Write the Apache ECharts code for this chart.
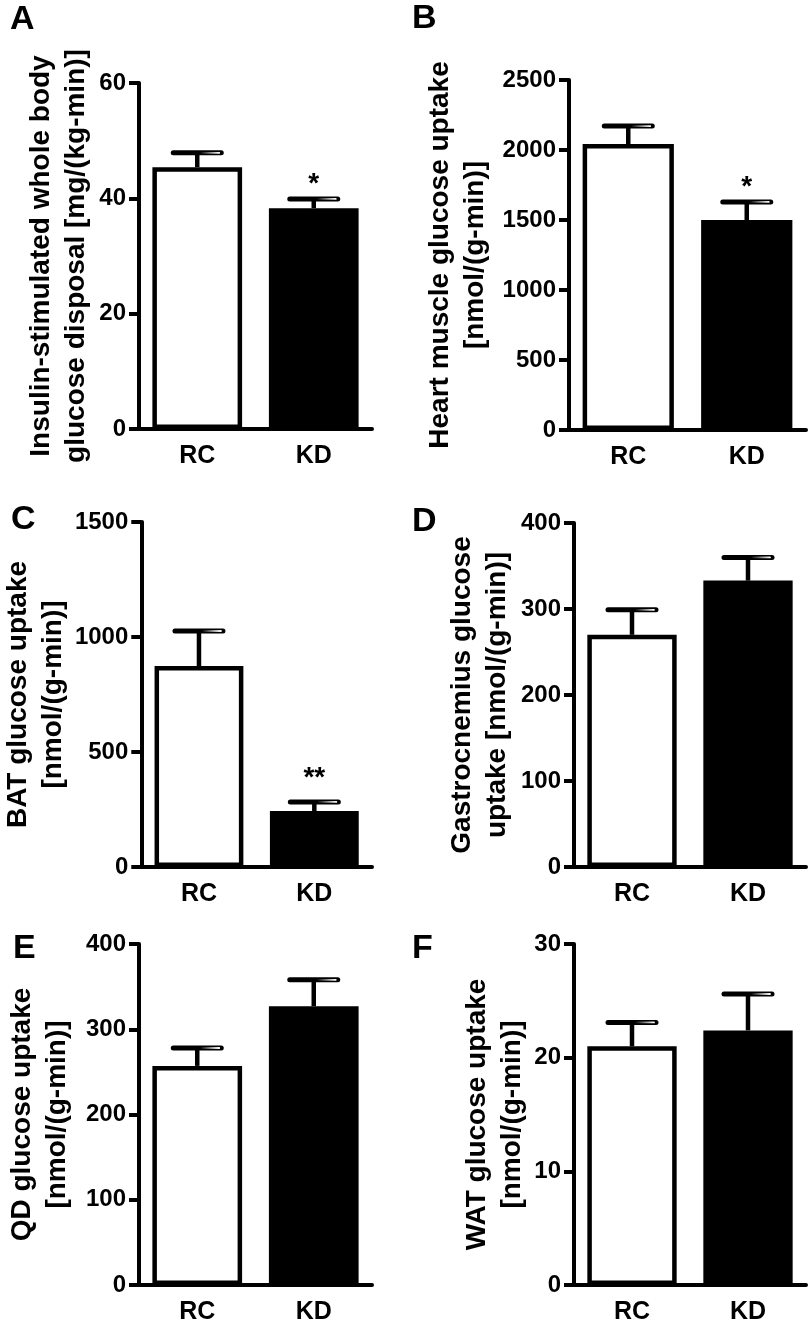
<!DOCTYPE html>
<html>
<head>
<meta charset="utf-8">
<script src="https://cdn.jsdelivr.net/npm/echarts@6/dist/echarts.min.js"></script>
<style>
  html, body { margin: 0; padding: 0; background: #fff; }
  #chart { width: 812px; height: 1325px; }
</style>
</head>
<body>
<div id="chart"></div>
<script>
// ---------- data ----------
const categories = ['RC', 'KD'];

const meanA = [45.4, 38.3];   const semA = [2.5, 1.6];   const sigA = ['', '*'];
const meanB = [2043, 1500];   const semB = [128, 129];   const sigB = ['', '*'];
const meanC = [874, 243];     const semC = [152, 40];    const sigC = ['', '**'];
const meanD = [270, 333];     const semD = [29, 27];     const sigD = ['', ''];
const meanE = [257, 327];     const semE = [21, 31];     const sigE = ['', ''];
const meanF = [21.0, 22.4];   const semF = [2.1, 3.2];   const sigF = ['', ''];

// y axis: [min, max, interval]
const yAxisA = [0, 60, 20];
const yAxisB = [0, 2500, 500];
const yAxisC = [0, 1500, 500];
const yAxisD = [0, 400, 100];
const yAxisE = [0, 400, 100];
const yAxisF = [0, 30, 10];

const lettersList = ['A', 'B', 'C', 'D', 'E', 'F'];
const nameA = 'Insulin-stimulated whole body\nglucose disposal [mg/(kg-min)]';
const nameB = 'Heart muscle glucose uptake\n[nmol/(g-min)]';
const nameC = 'BAT glucose uptake\n[nmol/(g-min)]';
const nameD = 'Gastrocnemius glucose\nuptake [nmol/(g-min)]';
const nameE = 'QD glucose uptake\n[nmol/(g-min)]';
const nameF = 'WAT glucose uptake\n[nmol/(g-min)]';

// ---------- layout ----------
const FONT = '"Liberation Sans", Arial, Helvetica, sans-serif';
const panels = [
  { mean: meanA, sem: semA, sig: sigA, y: yAxisA, name: nameA, grid: { left: 139, right: 440, top: 83, bottom: 896 }, nameGap: 45, sigGap: 1, letter: { left: 10, top: 3 } },
  { mean: meanB, sem: semB, sig: sigB, y: yAxisB, name: nameB, grid: { left: 569, right: 6, top: 80, bottom: 895 }, nameGap: 76, sigGap: 1, letter: { left: 412, top: 2 } },
  { mean: meanC, sem: semC, sig: sigC, y: yAxisC, name: nameC, grid: { left: 139, right: 440, top: 522, bottom: 458 }, nameGap: 70, sigGap: 10, letter: { left: 11, top: 503 } },
  { mean: meanD, sem: semD, sig: sigD, y: yAxisD, name: nameD, grid: { left: 574, right: 6, top: 523, bottom: 458 }, nameGap: 59, sigGap: 1, letter: { left: 412, top: 505 } },
  { mean: meanE, sem: semE, sig: sigE, y: yAxisE, name: nameE, grid: { left: 139, right: 440, top: 944, bottom: 36 }, nameGap: 64, sigGap: 1, letter: { left: 13, top: 932 } },
  { mean: meanF, sem: semF, sig: sigF, y: yAxisF, name: nameF, grid: { left: 574, right: 6, top: 944, bottom: 36 }, nameGap: 44, sigGap: 1, letter: { left: 412, top: 932 } }
];

const barColors = ['#ffffff', '#000000'];

function makeRender(p) {
  return function (params, api) {
    const idx = api.value(0);
    const m = api.value(1);
    const e = api.value(2);
    const base = api.coord([idx, m]);
    const top = api.coord([idx, m + e]);
    const cx = base[0];
    const ty = top[1];
    const children = [
      { type: 'line', shape: { x1: cx, y1: base[1], x2: cx, y2: ty }, style: { stroke: '#000', lineWidth: 4.5 } },
      { type: 'line', shape: { x1: cx - 24, y1: ty, x2: cx + 24, y2: ty }, style: { stroke: '#000', lineWidth: 5, lineCap: 'round' } },
      { type: 'line', shape: { x1: cx + 3, y1: ty, x2: cx + 22, y2: ty },
        style: { lineWidth: 1.8, lineCap: 'round',
          stroke: { type: 'linear', x: cx + 3, y: 0, x2: cx + 22, y2: 0, global: true,
            colorStops: [{ offset: 0, color: 'rgba(255,255,255,0)' }, { offset: 1, color: '#ffffff' }] } } }
    ];
    const s = p.sig[params.dataIndex];
    if (s) {
      children.push({ type: 'text', style: { text: s, x: cx, y: ty - p.sigGap, align: 'center', verticalAlign: 'bottom',
        font: 'bold 28px ' + FONT, fill: '#000' } });
    }
    return { type: 'group', children: children };
  };
}

const grids = [], xAxes = [], yAxes = [], series = [], titles = [];
panels.forEach(function (p, i) {
  grids.push(Object.assign({ containLabel: false }, p.grid));
  xAxes.push({
    type: 'category', gridIndex: i, data: categories,
    axisLine: { lineStyle: { color: '#000', width: 4 } },
    axisTick: { show: false },
    axisLabel: { color: '#000', fontFamily: FONT, fontWeight: 'bold', fontSize: 25, margin: 15 }
  });
  yAxes.push({
    type: 'value', gridIndex: i, min: p.y[0], max: p.y[1], interval: p.y[2],
    name: p.name, nameLocation: 'middle', nameRotate: 90, nameGap: p.nameGap,
    nameTextStyle: { color: '#000', fontFamily: FONT, fontWeight: 'bold', fontSize: 28, lineHeight: 35 },
    axisLine: { show: true, lineStyle: { color: '#000', width: 4 } },
    axisTick: { show: true, length: 10, lineStyle: { color: '#000', width: 4 } },
    splitLine: { show: false },
    axisLabel: { color: '#000', fontFamily: FONT, fontWeight: 'bold', fontSize: 24, margin: 13,
      formatter: function (v) { return String(v); } }
  });
  series.push({
    type: 'bar', xAxisIndex: i, yAxisIndex: i, barWidth: '77%', z: 2,
    data: p.mean.map(function (v, k) {
      return { value: v, itemStyle: { color: barColors[k], borderColor: '#000', borderWidth: 4.5 } };
    }),
    animation: false, silent: true
  });
  series.push({
    type: 'custom', xAxisIndex: i, yAxisIndex: i, z: 3,
    renderItem: makeRender(p),
    encode: { x: 0, y: [1] },
    data: p.mean.map(function (v, k) { return [k, v, p.sem[k]]; }),
    animation: false, silent: true
  });
  titles.push({ text: lettersList[i], left: p.letter.left, top: p.letter.top, padding: 0,
    textStyle: { color: '#000', fontFamily: FONT, fontWeight: 'bold', fontSize: 34 } });
});

const chart = echarts.init(document.getElementById('chart'), null, { renderer: 'canvas' });
chart.setOption({
  backgroundColor: '#ffffff',
  animation: false,
  title: titles,
  grid: grids,
  xAxis: xAxes,
  yAxis: yAxes,
  series: series
});
</script>
</body>
</html>
